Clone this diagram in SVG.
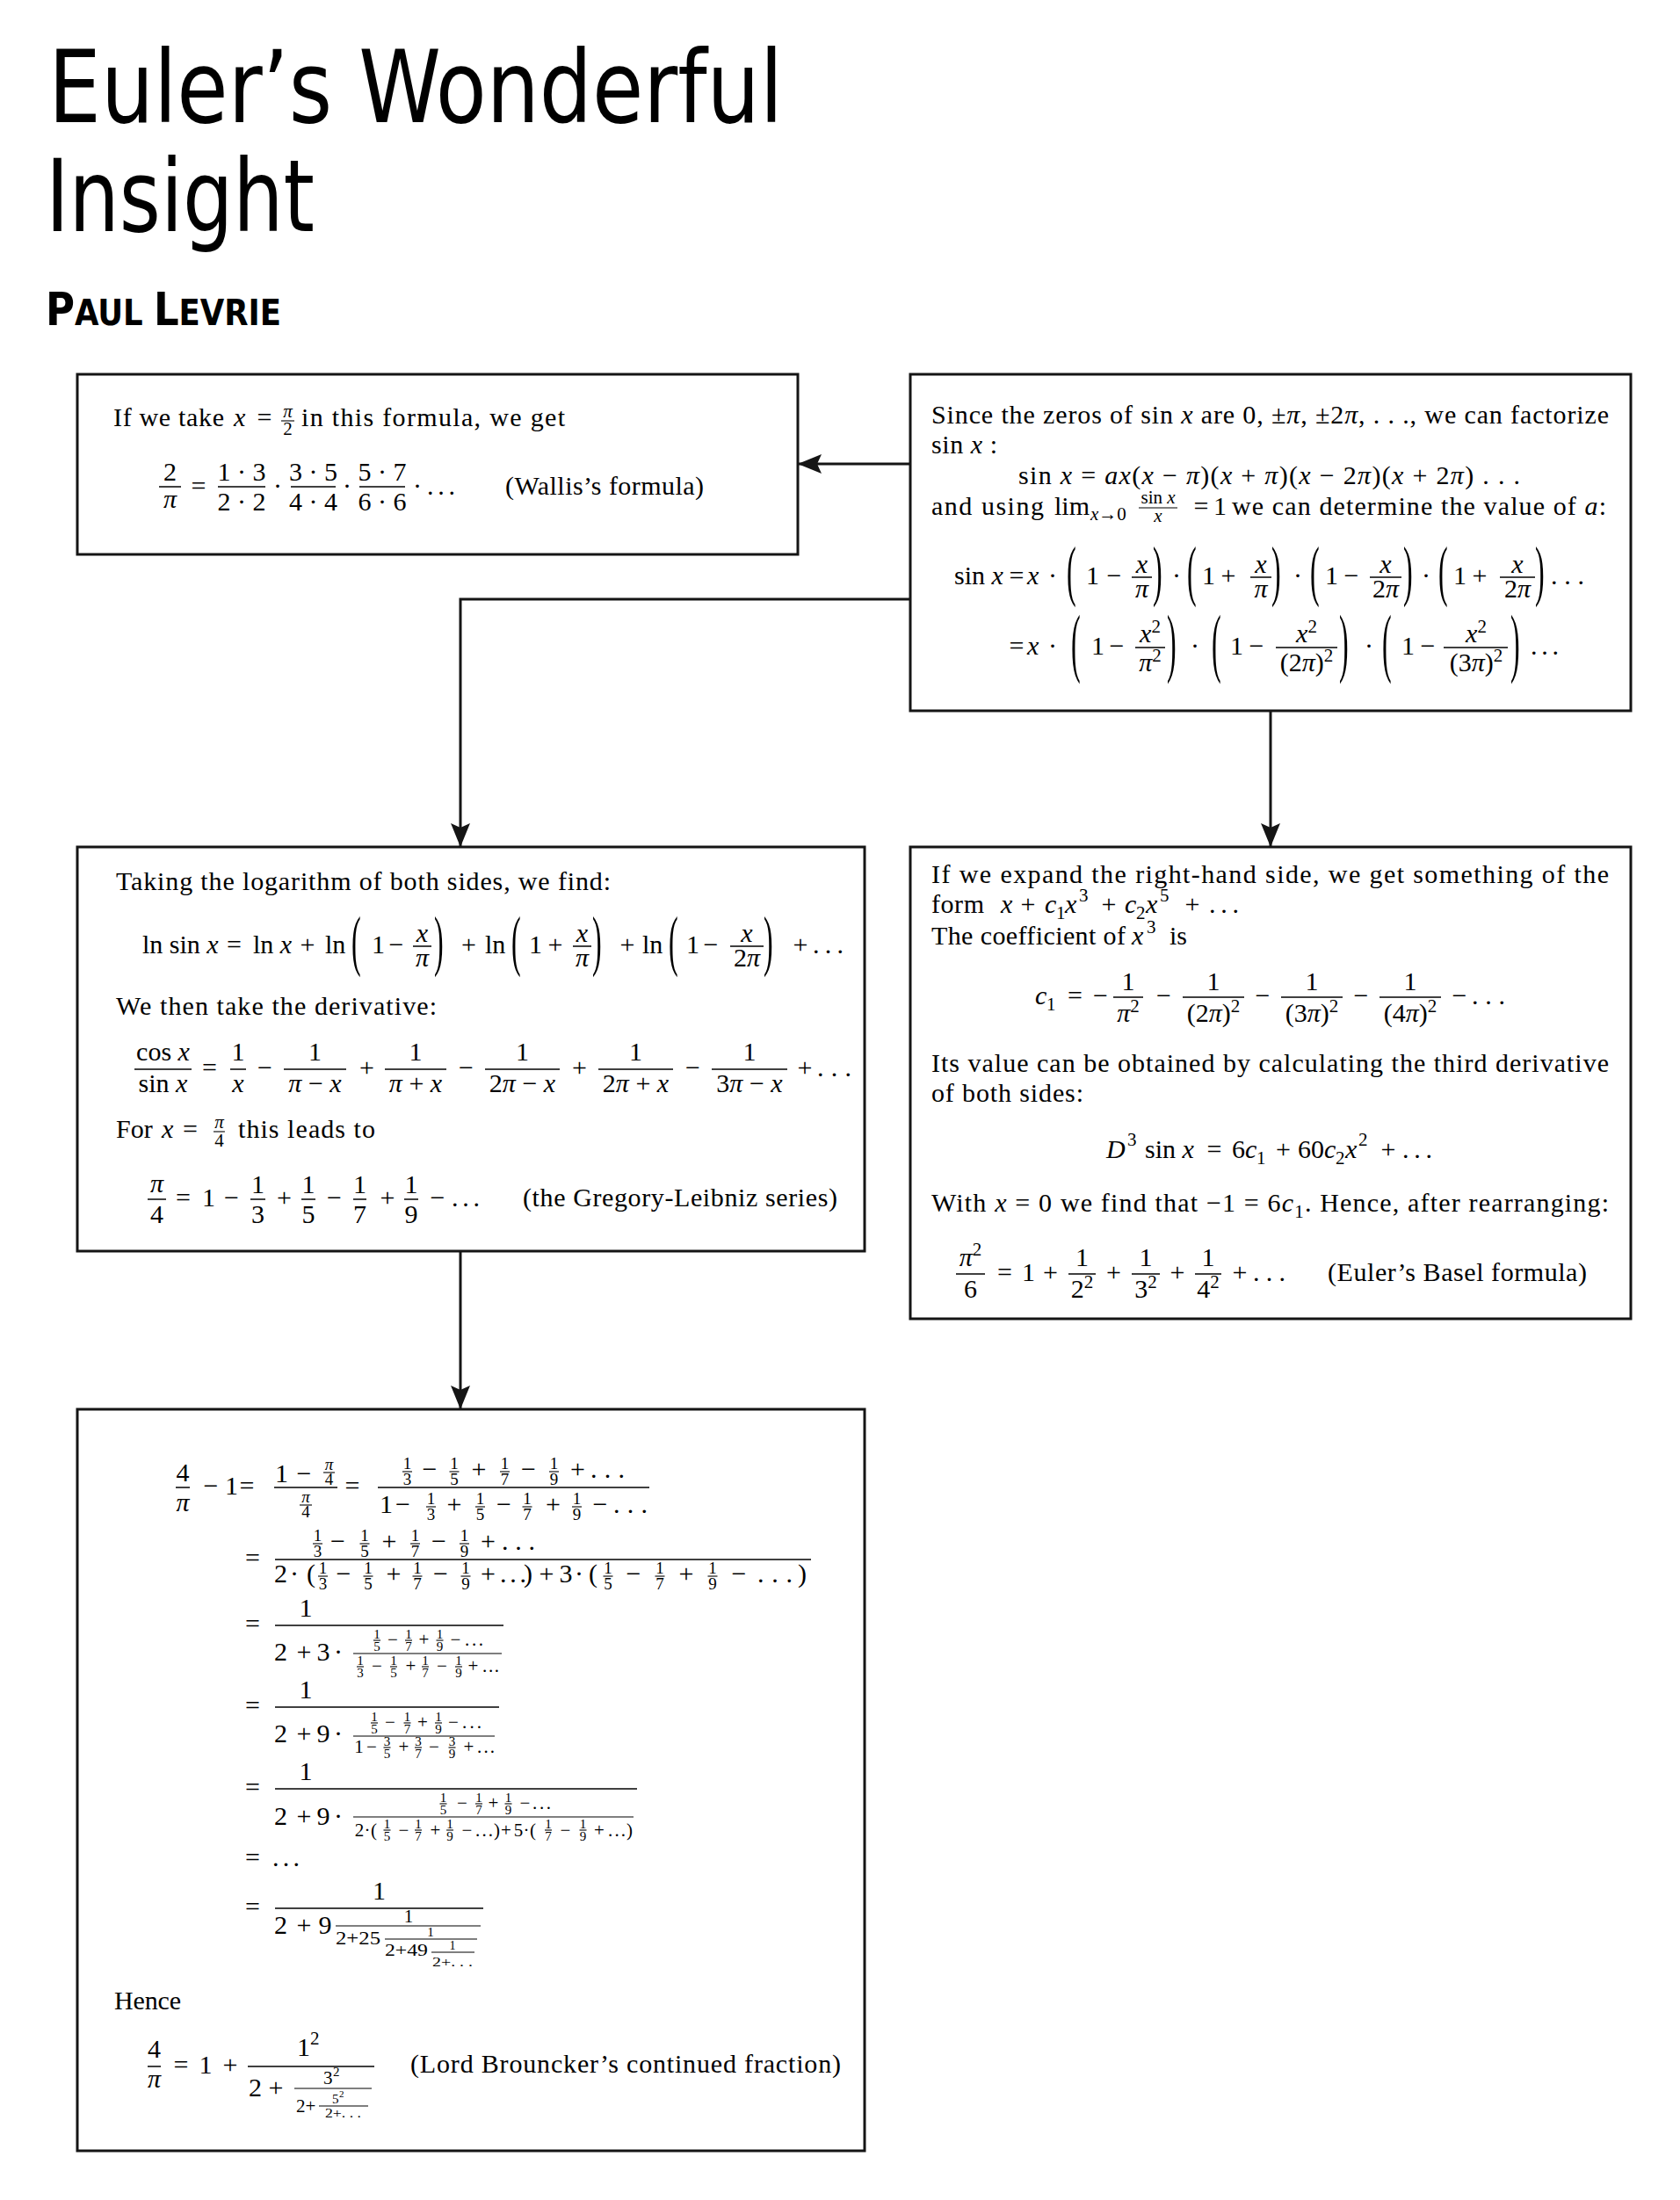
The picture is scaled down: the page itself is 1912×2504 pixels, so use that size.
<svg xmlns="http://www.w3.org/2000/svg" width="1912" height="2504" viewBox="0 0 1912 2504">
<defs>
<style>
.t{font-family:"Liberation Serif","Times New Roman",serif;font-size:30px;fill:#000}
.i{font-style:italic}
.s{font-size:21px}
.s2{font-size:19px}
.ss{font-size:15px}
.p{font-size:32px}
.m{text-anchor:middle}
.fb{stroke:#000;stroke-width:1.5}
.fs{stroke:#000;stroke-width:1.1}
.box{fill:#fff;stroke:#151515;stroke-width:3}
.cn{fill:none;stroke:#151515;stroke-width:3}
.ttl{font-family:"DejaVu Sans","Liberation Sans",sans-serif;font-stretch:condensed;fill:#000}
</style>
<marker id="ah" viewBox="0 0 27 22" refX="27" refY="11" markerWidth="27" markerHeight="22" markerUnits="userSpaceOnUse" orient="auto">
<path d="M0,0 L27,11 L0,22 L5,11 Z" fill="#151515"/>
</marker>
</defs>
<rect width="1912" height="2504" fill="#fff"/>

<g id="title">
<text class="ttl" x="55" y="139" font-size="114" textLength="836" lengthAdjust="spacingAndGlyphs">Euler’s Wonderful</text>
<text class="ttl" x="52" y="263" font-size="114" textLength="306" lengthAdjust="spacingAndGlyphs">Insight</text>
<text class="ttl" x="52" y="370" font-weight="bold" textLength="268" lengthAdjust="spacingAndGlyphs"><tspan font-size="52">P</tspan><tspan font-size="41">AUL </tspan><tspan font-size="52">L</tspan><tspan font-size="41">EVRIE</tspan></text>
</g>

<g id="n-wallis">
<rect class="box" x="88" y="426" width="820" height="205"/>
<text class="t" x="129" y="485" textLength="126" lengthAdjust="spacing">If we take</text>
<text class="t i" x="266" y="485">x</text>
<text class="t m" x="301" y="485">=</text>
<text class="t s i m" x="327.5" y="475">π</text>
<line class="fs" x1="320" y1="479" x2="335" y2="479"/>
<text class="t s m" x="327.5" y="495">2</text>
<text class="t" x="343" y="485" textLength="300" lengthAdjust="spacing">in this formula, we get</text>
<text class="t m" x="193.5" y="547">2</text>
<line class="fb" x1="181" y1="554" x2="206" y2="554"/>
<text class="t i m" x="193.5" y="578">π</text>
<text class="t m" x="226" y="563">=</text>
<text class="t m" x="275" y="547">1 · 3</text>
<line class="fb" x1="248" y1="554" x2="302" y2="554"/>
<text class="t m" x="275" y="581">2 · 2</text>
<text class="t m" x="316" y="563">·</text>
<text class="t m" x="356.5" y="547">3 · 5</text>
<line class="fb" x1="331" y1="554" x2="382" y2="554"/>
<text class="t m" x="356.5" y="581">4 · 4</text>
<text class="t m" x="395" y="563">·</text>
<text class="t m" x="435" y="547">5 · 7</text>
<line class="fb" x1="409" y1="554" x2="461" y2="554"/>
<text class="t m" x="435" y="581">6 · 6</text>
<text class="t m" x="475" y="563">·</text>
<text class="t" x="486" y="563" textLength="32" lengthAdjust="spacing">. . .</text>
<text class="t" x="575" y="563" textLength="226" lengthAdjust="spacing">(Wallis’s formula)</text>
</g>

<g id="n-factorize">
<rect class="box" x="1036" y="426" width="820" height="383"/>
<text class="t" x="1060" y="482" textLength="771" lengthAdjust="spacing">Since the zeros of sin <tspan class="i">x</tspan> are 0, ±<tspan class="i">π</tspan>, ±2<tspan class="i">π</tspan>, . . ., we can factorize</text>
<text class="t" x="1060" y="516" textLength="75" lengthAdjust="spacing">sin <tspan class="i">x</tspan> :</text>
<text class="t" x="1159" y="551" textLength="571" lengthAdjust="spacing">sin <tspan class="i">x</tspan> = <tspan class="i">ax</tspan>(<tspan class="i">x</tspan> − <tspan class="i">π</tspan>)(<tspan class="i">x</tspan> + <tspan class="i">π</tspan>)(<tspan class="i">x</tspan> − 2<tspan class="i">π</tspan>)(<tspan class="i">x</tspan> + 2<tspan class="i">π</tspan>) . . .</text>
<text class="t" x="1060" y="586" textLength="128" lengthAdjust="spacing">and using</text>
<text class="t" x="1200" y="586">lim</text>
<text class="t s" x="1241" y="592"><tspan class="i">x</tspan>→0</text>
<text class="t s m" x="1318" y="573">sin <tspan class="i">x</tspan></text>
<line class="fs" x1="1296" y1="578" x2="1340" y2="578"/>
<text class="t s i m" x="1318" y="594">x</text>
<text class="t m" x="1367" y="586">=</text>
<text class="t" x="1381" y="586">1</text>
<text class="t" x="1402" y="586" textLength="426" lengthAdjust="spacing">we can determine the value of <tspan class="i">a</tspan>:</text>
<!-- row 1 -->
<text class="t" x="1086" y="665">sin <tspan class="i">x</tspan></text>
<text class="t m" x="1157" y="665">=</text>
<text class="t i" x="1169" y="665">x</text>
<text class="t m" x="1198" y="665">·</text>
<text class="t p" transform="translate(1214,675) scale(1,2.4)">(</text>
<text class="t" x="1236" y="665">1</text>
<text class="t m" x="1268" y="665">−</text>
<text class="t i m" x="1299.5" y="652">x</text>
<line class="fb" x1="1288" y1="657" x2="1311" y2="657"/>
<text class="t i m" x="1299.5" y="680">π</text>
<text class="t p" transform="translate(1312,675) scale(1,2.4)">)</text>
<text class="t m" x="1339" y="665">·</text>
<text class="t p" transform="translate(1351,675) scale(1,2.4)">(</text>
<text class="t" x="1368" y="665">1</text>
<text class="t m" x="1398" y="665">+</text>
<text class="t i m" x="1435" y="652">x</text>
<line class="fb" x1="1423" y1="657" x2="1447" y2="657"/>
<text class="t i m" x="1435" y="680">π</text>
<text class="t p" transform="translate(1447,675) scale(1,2.4)">)</text>
<text class="t m" x="1477" y="665">·</text>
<text class="t p" transform="translate(1491,675) scale(1,2.4)">(</text>
<text class="t" x="1508" y="665">1</text>
<text class="t m" x="1538" y="665">−</text>
<text class="t i m" x="1577" y="652">x</text>
<line class="fb" x1="1559" y1="657" x2="1595" y2="657"/>
<text class="t m" x="1577" y="680">2<tspan class="i">π</tspan></text>
<text class="t p" transform="translate(1597,675) scale(1,2.4)">)</text>
<text class="t m" x="1623" y="665">·</text>
<text class="t p" transform="translate(1637,675) scale(1,2.4)">(</text>
<text class="t" x="1654" y="665">1</text>
<text class="t m" x="1684" y="665">+</text>
<text class="t i m" x="1727" y="652">x</text>
<line class="fb" x1="1707" y1="657" x2="1747" y2="657"/>
<text class="t m" x="1727" y="680">2<tspan class="i">π</tspan></text>
<text class="t p" transform="translate(1747,675) scale(1,2.4)">)</text>
<text class="t" x="1765" y="665" textLength="38" lengthAdjust="spacing">. . .</text>
<!-- row 2 -->
<text class="t m" x="1157" y="745">=</text>
<text class="t i" x="1169" y="745">x</text>
<text class="t m" x="1198" y="745">·</text>
<text class="t p" transform="translate(1219,760) scale(1,2.7)">(</text>
<text class="t" x="1242" y="745">1</text>
<text class="t m" x="1271" y="745">−</text>
<text class="t m" x="1309" y="731"><tspan class="i">x</tspan><tspan class="s" dy="-11">2</tspan></text>
<line class="fb" x1="1292" y1="737" x2="1326" y2="737"/>
<text class="t m" x="1309" y="764"><tspan class="i">π</tspan><tspan class="s" dy="-11">2</tspan></text>
<text class="t p" transform="translate(1328,760) scale(1,2.7)">)</text>
<text class="t m" x="1360" y="745">·</text>
<text class="t p" transform="translate(1379,760) scale(1,2.7)">(</text>
<text class="t" x="1400" y="745">1</text>
<text class="t m" x="1430" y="745">−</text>
<text class="t m" x="1487" y="731"><tspan class="i">x</tspan><tspan class="s" dy="-11">2</tspan></text>
<line class="fb" x1="1452" y1="737" x2="1522" y2="737"/>
<text class="t m" x="1487" y="764">(2<tspan class="i">π</tspan>)<tspan class="s" dy="-11">2</tspan></text>
<text class="t p" transform="translate(1524,760) scale(1,2.7)">)</text>
<text class="t m" x="1558" y="745">·</text>
<text class="t p" transform="translate(1573,760) scale(1,2.7)">(</text>
<text class="t" x="1595" y="745">1</text>
<text class="t m" x="1625" y="745">−</text>
<text class="t m" x="1680" y="731"><tspan class="i">x</tspan><tspan class="s" dy="-11">2</tspan></text>
<line class="fb" x1="1643" y1="737" x2="1716" y2="737"/>
<text class="t m" x="1680" y="764">(3<tspan class="i">π</tspan>)<tspan class="s" dy="-11">2</tspan></text>
<text class="t p" transform="translate(1719,760) scale(1,2.7)">)</text>
<text class="t" x="1742" y="745" textLength="32" lengthAdjust="spacing">. . .</text>
</g>

<g id="n-logarithm">
<rect class="box" x="88" y="964" width="896" height="460"/>
<text class="t" x="132" y="1013" textLength="563" lengthAdjust="spacing">Taking the logarithm of both sides, we find:</text>
<text class="t" x="162" y="1085">ln sin <tspan class="i">x</tspan></text>
<text class="t m" x="266.5" y="1085">=</text>
<text class="t" x="288" y="1085">ln <tspan class="i">x</tspan></text>
<text class="t m" x="350" y="1085">+</text>
<text class="t" x="370" y="1085">ln</text>
<text class="t p" transform="translate(400,1096) scale(1,2.4)">(</text>
<text class="t" x="423" y="1085">1</text>
<text class="t m" x="451" y="1085">−</text>
<text class="t i m" x="480.5" y="1072">x</text>
<line class="fb" x1="470" y1="1077" x2="491" y2="1077"/>
<text class="t i m" x="480.5" y="1100">π</text>
<text class="t p" transform="translate(494,1096) scale(1,2.4)">)</text>
<text class="t m" x="533.5" y="1085">+</text>
<text class="t" x="552" y="1085">ln</text>
<text class="t p" transform="translate(582,1096) scale(1,2.4)">(</text>
<text class="t" x="602" y="1085">1</text>
<text class="t m" x="632" y="1085">+</text>
<text class="t i m" x="662.5" y="1072">x</text>
<line class="fb" x1="652" y1="1077" x2="673" y2="1077"/>
<text class="t i m" x="662.5" y="1100">π</text>
<text class="t p" transform="translate(674,1096) scale(1,2.4)">)</text>
<text class="t m" x="714" y="1085">+</text>
<text class="t" x="731" y="1085">ln</text>
<text class="t p" transform="translate(761,1096) scale(1,2.4)">(</text>
<text class="t" x="781" y="1085">1</text>
<text class="t m" x="809" y="1085">−</text>
<text class="t i m" x="850" y="1072">x</text>
<line class="fb" x1="831" y1="1077" x2="869" y2="1077"/>
<text class="t m" x="850" y="1100">2<tspan class="i">π</tspan></text>
<text class="t p" transform="translate(869,1096) scale(1,2.4)">)</text>
<text class="t m" x="911" y="1085">+</text>
<text class="t" x="925" y="1085" textLength="35" lengthAdjust="spacing">. . .</text>

<text class="t" x="132" y="1155" textLength="365" lengthAdjust="spacing">We then take the derivative:</text>
<text class="t m" x="185.5" y="1207">cos <tspan class="i">x</tspan></text>
<line class="fb" x1="153" y1="1217" x2="218" y2="1217"/>
<text class="t m" x="185.5" y="1243">sin <tspan class="i">x</tspan></text>
<text class="t m" x="238.5" y="1225">=</text>
<text class="t m" x="271" y="1207">1</text>
<line class="fb" x1="262" y1="1217" x2="280" y2="1217"/>
<text class="t i m" x="271" y="1243">x</text>
<text class="t m" x="301.5" y="1225">−</text>
<text class="t m" x="358.5" y="1207">1</text>
<line class="fb" x1="323" y1="1217" x2="394" y2="1217"/>
<text class="t m" x="358.5" y="1243"><tspan class="i">π</tspan> − <tspan class="i">x</tspan></text>
<text class="t m" x="417.5" y="1225">+</text>
<text class="t m" x="473" y="1207">1</text>
<line class="fb" x1="438" y1="1217" x2="508" y2="1217"/>
<text class="t m" x="473" y="1243"><tspan class="i">π</tspan> + <tspan class="i">x</tspan></text>
<text class="t m" x="530.5" y="1225">−</text>
<text class="t m" x="594.5" y="1207">1</text>
<line class="fb" x1="552" y1="1217" x2="637" y2="1217"/>
<text class="t m" x="594.5" y="1243">2<tspan class="i">π</tspan> − <tspan class="i">x</tspan></text>
<text class="t m" x="659.5" y="1225">+</text>
<text class="t m" x="723.5" y="1207">1</text>
<line class="fb" x1="681" y1="1217" x2="766" y2="1217"/>
<text class="t m" x="723.5" y="1243">2<tspan class="i">π</tspan> + <tspan class="i">x</tspan></text>
<text class="t m" x="788.5" y="1225">−</text>
<text class="t m" x="853" y="1207">1</text>
<line class="fb" x1="810" y1="1217" x2="896" y2="1217"/>
<text class="t m" x="853" y="1243">3<tspan class="i">π</tspan> − <tspan class="i">x</tspan></text>
<text class="t m" x="916" y="1225">+</text>
<text class="t" x="930" y="1225" textLength="39" lengthAdjust="spacing">. . .</text>

<text class="t" x="132" y="1295">For</text>
<text class="t i" x="184" y="1295">x</text>
<text class="t m" x="216.5" y="1295">=</text>
<text class="t s i m" x="249.5" y="1284">π</text>
<line class="fs" x1="243" y1="1288" x2="256" y2="1288"/>
<text class="t s m" x="249.5" y="1305">4</text>
<text class="t" x="271" y="1295" textLength="156" lengthAdjust="spacing">this leads to</text>

<text class="t i m" x="178.5" y="1357">π</text>
<line class="fb" x1="168" y1="1365" x2="189" y2="1365"/>
<text class="t m" x="178.5" y="1392">4</text>
<text class="t m" x="208.5" y="1373">=</text>
<text class="t m" x="237.5" y="1373">1</text>
<text class="t m" x="263.5" y="1373">−</text>
<text class="t m" x="293.5" y="1358">1</text>
<line class="fb" x1="285" y1="1365" x2="302" y2="1365"/>
<text class="t m" x="293.5" y="1392">3</text>
<text class="t m" x="323.5" y="1373">+</text>
<text class="t m" x="351" y="1358">1</text>
<line class="fb" x1="343" y1="1365" x2="359" y2="1365"/>
<text class="t m" x="351" y="1392">5</text>
<text class="t m" x="380.5" y="1373">−</text>
<text class="t m" x="409.5" y="1358">1</text>
<line class="fb" x1="402" y1="1365" x2="417" y2="1365"/>
<text class="t m" x="409.5" y="1392">7</text>
<text class="t m" x="441" y="1373">+</text>
<text class="t m" x="468" y="1358">1</text>
<line class="fb" x1="460" y1="1365" x2="476" y2="1365"/>
<text class="t m" x="468" y="1392">9</text>
<text class="t m" x="498" y="1373">−</text>
<text class="t" x="514" y="1373" textLength="32" lengthAdjust="spacing">. . .</text>
<text class="t" x="595" y="1373" textLength="358" lengthAdjust="spacing">(the Gregory-Leibniz series)</text>
</g>

<g id="n-basel">
<rect class="box" x="1036" y="964" width="820" height="537"/>
<text class="t" x="1060" y="1005" textLength="771" lengthAdjust="spacing">If we expand the right-hand side, we get something of the</text>
<text class="t" x="1060" y="1039" textLength="60" lengthAdjust="spacing">form</text>
<text class="t i" x="1139" y="1039">x</text>
<text class="t m" x="1170" y="1039">+</text>
<text class="t i" x="1189" y="1039">c</text>
<text class="t s" x="1202" y="1046">1</text>
<text class="t i" x="1212" y="1039">x</text>
<text class="t s" x="1228" y="1026">3</text>
<text class="t m" x="1262" y="1039">+</text>
<text class="t i" x="1280" y="1039">c</text>
<text class="t s" x="1293" y="1046">2</text>
<text class="t i" x="1304" y="1039">x</text>
<text class="t s" x="1320" y="1026">5</text>
<text class="t m" x="1357" y="1039">+</text>
<text class="t" x="1376" y="1039" textLength="34" lengthAdjust="spacing">. . .</text>
<text class="t" x="1060" y="1075" textLength="221" lengthAdjust="spacing">The coefficient of</text>
<text class="t i" x="1288" y="1075">x</text>
<text class="t s" x="1305" y="1062">3</text>
<text class="t" x="1331" y="1075">is</text>

<text class="t i" x="1178" y="1143">c</text>
<text class="t s" x="1191" y="1150">1</text>
<text class="t m" x="1223.5" y="1143">=</text>
<text class="t m" x="1252.5" y="1143">−</text>
<text class="t m" x="1284" y="1127">1</text>
<line class="fb" x1="1267" y1="1135" x2="1301" y2="1135"/>
<text class="t m" x="1284" y="1163"><tspan class="i">π</tspan><tspan class="s" dy="-11">2</tspan></text>
<text class="t m" x="1324.5" y="1143">−</text>
<text class="t m" x="1381" y="1127">1</text>
<line class="fb" x1="1346" y1="1135" x2="1416" y2="1135"/>
<text class="t m" x="1381" y="1163">(2<tspan class="i">π</tspan>)<tspan class="s" dy="-11">2</tspan></text>
<text class="t m" x="1437" y="1143">−</text>
<text class="t m" x="1493" y="1127">1</text>
<line class="fb" x1="1458" y1="1135" x2="1528" y2="1135"/>
<text class="t m" x="1493" y="1163">(3<tspan class="i">π</tspan>)<tspan class="s" dy="-11">2</tspan></text>
<text class="t m" x="1549" y="1143">−</text>
<text class="t m" x="1605" y="1127">1</text>
<line class="fb" x1="1570" y1="1135" x2="1640" y2="1135"/>
<text class="t m" x="1605" y="1163">(4<tspan class="i">π</tspan>)<tspan class="s" dy="-11">2</tspan></text>
<text class="t m" x="1661" y="1143">−</text>
<text class="t" x="1675" y="1143" textLength="38" lengthAdjust="spacing">. . .</text>

<text class="t" x="1060" y="1220" textLength="771" lengthAdjust="spacing">Its value can be obtained by calculating the third derivative</text>
<text class="t" x="1060" y="1254" textLength="173" lengthAdjust="spacing">of both sides:</text>

<text class="t i" x="1259" y="1318">D</text>
<text class="t s" x="1283" y="1304">3</text>
<text class="t" x="1303" y="1318">sin <tspan class="i">x</tspan></text>
<text class="t m" x="1382" y="1318">=</text>
<text class="t" x="1402" y="1318">6<tspan class="i">c</tspan></text>
<text class="t s" x="1430" y="1325">1</text>
<text class="t m" x="1460.5" y="1318">+</text>
<text class="t" x="1477" y="1318">60<tspan class="i">c</tspan></text>
<text class="t s" x="1520" y="1325">2</text>
<text class="t i" x="1531" y="1318">x</text>
<text class="t s" x="1546" y="1304">2</text>
<text class="t m" x="1580" y="1318">+</text>
<text class="t" x="1596" y="1318" textLength="34" lengthAdjust="spacing">. . .</text>

<text class="t" x="1060" y="1379" textLength="771" lengthAdjust="spacing">With <tspan class="i">x</tspan> = 0 we find that −1 = 6<tspan class="i">c</tspan><tspan class="s" dy="7">1</tspan><tspan dy="-7">. Hence, after rearranging:</tspan></text>

<text class="t m" x="1104.5" y="1441"><tspan class="i">π</tspan><tspan class="s" dy="-12">2</tspan></text>
<line class="fb" x1="1088" y1="1450" x2="1121" y2="1450"/>
<text class="t m" x="1104.5" y="1477">6</text>
<text class="t m" x="1143.5" y="1458">=</text>
<text class="t" x="1163" y="1458">1</text>
<text class="t m" x="1195.5" y="1458">+</text>
<text class="t m" x="1231.5" y="1441">1</text>
<line class="fb" x1="1216" y1="1450" x2="1247" y2="1450"/>
<text class="t m" x="1231.5" y="1477">2<tspan class="s" dy="-11">2</tspan></text>
<text class="t m" x="1267.5" y="1458">+</text>
<text class="t m" x="1304" y="1441">1</text>
<line class="fb" x1="1288" y1="1450" x2="1320" y2="1450"/>
<text class="t m" x="1304" y="1477">3<tspan class="s" dy="-11">2</tspan></text>
<text class="t m" x="1340" y="1458">+</text>
<text class="t m" x="1375" y="1441">1</text>
<line class="fb" x1="1360" y1="1450" x2="1390" y2="1450"/>
<text class="t m" x="1375" y="1477">4<tspan class="s" dy="-11">2</tspan></text>
<text class="t m" x="1411" y="1458">+</text>
<text class="t" x="1426" y="1458" textLength="37" lengthAdjust="spacing">. . .</text>
<text class="t" x="1511" y="1458" textLength="295" lengthAdjust="spacing">(Euler’s Basel formula)</text>
</g>

<g id="n-brouncker">
<rect class="box" x="88" y="1604" width="896" height="844"/>
<!-- row A -->
<text class="t m" x="208" y="1686">4</text>
<line class="fb" x1="200" y1="1693" x2="216" y2="1693"/>
<text class="t i m" x="208" y="1720">π</text>
<text class="t m" x="240" y="1701">−</text>
<text class="t m" x="263.5" y="1701">1</text>
<text class="t m" x="281" y="1701">=</text>
<text class="t" x="313" y="1687">1</text>
<text class="t m" x="346" y="1687">−</text>
<text class="t s2 i m" x="374.5" y="1673">π</text>
<line class="fs" x1="368" y1="1676" x2="381" y2="1676"/>
<text class="t s2 m" x="374.5" y="1690">4</text>
<line class="fb" x1="312" y1="1693" x2="384" y2="1693"/>
<text class="t s2 i m" x="348" y="1710">π</text>
<line class="fs" x1="341" y1="1713" x2="355" y2="1713"/>
<text class="t s2 m" x="348" y="1727">4</text>
<text class="t m" x="401" y="1701">=</text>
<text class="t s2 m" x="463.5" y="1672">1</text><line class="fs" x1="458" y1="1675" x2="469" y2="1675"/><text class="t s2 m" x="463.5" y="1690">3</text>
<text class="t m" x="489" y="1682">−</text>
<text class="t s2 m" x="517" y="1672">1</text><line class="fs" x1="511.5" y1="1675" x2="522.5" y2="1675"/><text class="t s2 m" x="517" y="1690">5</text>
<text class="t m" x="545" y="1682">+</text>
<text class="t s2 m" x="574.5" y="1672">1</text><line class="fs" x1="569" y1="1675" x2="580" y2="1675"/><text class="t s2 m" x="574.5" y="1690">7</text>
<text class="t m" x="601.5" y="1682">−</text>
<text class="t s2 m" x="630.5" y="1672">1</text><line class="fs" x1="625" y1="1675" x2="636" y2="1675"/><text class="t s2 m" x="630.5" y="1690">9</text>
<text class="t m" x="657.5" y="1682">+</text>
<text class="t" x="672" y="1682" textLength="39" lengthAdjust="spacing">. . .</text>
<line class="fb" x1="430" y1="1693" x2="739" y2="1693"/>
<text class="t m" x="439.5" y="1722">1</text>
<text class="t m" x="458.5" y="1722">−</text>
<text class="t s2 m" x="490.5" y="1712">1</text><line class="fs" x1="485" y1="1715" x2="496" y2="1715"/><text class="t s2 m" x="490.5" y="1730">3</text>
<text class="t m" x="517" y="1722">+</text>
<text class="t s2 m" x="546.5" y="1712">1</text><line class="fs" x1="541" y1="1715" x2="552" y2="1715"/><text class="t s2 m" x="546.5" y="1730">5</text>
<text class="t m" x="573.5" y="1722">−</text>
<text class="t s2 m" x="600" y="1712">1</text><line class="fs" x1="594.5" y1="1715" x2="605.5" y2="1715"/><text class="t s2 m" x="600" y="1730">7</text>
<text class="t m" x="629.5" y="1722">+</text>
<text class="t s2 m" x="656.5" y="1712">1</text><line class="fs" x1="651" y1="1715" x2="662" y2="1715"/><text class="t s2 m" x="656.5" y="1730">9</text>
<text class="t m" x="683" y="1722">−</text>
<text class="t" x="698" y="1722" textLength="39" lengthAdjust="spacing">. . .</text>

<!-- row B -->
<text class="t m" x="287.5" y="1783">=</text>
<text class="t s2 m" x="361.5" y="1754">1</text><line class="fs" x1="356" y1="1757" x2="367" y2="1757"/><text class="t s2 m" x="361.5" y="1772">3</text>
<text class="t m" x="384.5" y="1764">−</text>
<text class="t s2 m" x="415" y="1754">1</text><line class="fs" x1="409.5" y1="1757" x2="420.5" y2="1757"/><text class="t s2 m" x="415" y="1772">5</text>
<text class="t m" x="443" y="1764">+</text>
<text class="t s2 m" x="472.5" y="1754">1</text><line class="fs" x1="467" y1="1757" x2="478" y2="1757"/><text class="t s2 m" x="472.5" y="1772">7</text>
<text class="t m" x="499.5" y="1764">−</text>
<text class="t s2 m" x="528.5" y="1754">1</text><line class="fs" x1="523" y1="1757" x2="534" y2="1757"/><text class="t s2 m" x="528.5" y="1772">9</text>
<text class="t m" x="555.5" y="1764">+</text>
<text class="t" x="571" y="1764" textLength="38" lengthAdjust="spacing">. . .</text>
<line class="fb" x1="313" y1="1775" x2="923" y2="1775"/>
<text class="t m" x="319.5" y="1801">2</text>
<text class="t m" x="335" y="1801">·</text>
<text class="t" x="349" y="1801">(</text>
<text class="t s2 m" x="367.5" y="1791">1</text><line class="fs" x1="362" y1="1794" x2="373" y2="1794"/><text class="t s2 m" x="367.5" y="1809">3</text>
<text class="t m" x="391" y="1801">−</text>
<text class="t s2 m" x="419" y="1791">1</text><line class="fs" x1="413.5" y1="1794" x2="424.5" y2="1794"/><text class="t s2 m" x="419" y="1809">5</text>
<text class="t m" x="448" y="1801">+</text>
<text class="t s2 m" x="475" y="1791">1</text><line class="fs" x1="469.5" y1="1794" x2="480.5" y2="1794"/><text class="t s2 m" x="475" y="1809">7</text>
<text class="t m" x="501.5" y="1801">−</text>
<text class="t s2 m" x="530" y="1791">1</text><line class="fs" x1="524.5" y1="1794" x2="535.5" y2="1794"/><text class="t s2 m" x="530" y="1809">9</text>
<text class="t m" x="555.5" y="1801">+</text>
<text class="t" x="569" y="1801" textLength="30" lengthAdjust="spacing">. . .</text>
<text class="t" x="596" y="1801">)</text>
<text class="t m" x="622" y="1801">+</text>
<text class="t m" x="644" y="1801">3</text>
<text class="t m" x="659" y="1801">·</text>
<text class="t" x="670" y="1801">(</text>
<text class="t s2 m" x="692" y="1791">1</text><line class="fs" x1="686.5" y1="1794" x2="697.5" y2="1794"/><text class="t s2 m" x="692" y="1809">5</text>
<text class="t m" x="721" y="1801">−</text>
<text class="t s2 m" x="751" y="1791">1</text><line class="fs" x1="745.5" y1="1794" x2="756.5" y2="1794"/><text class="t s2 m" x="751" y="1809">7</text>
<text class="t m" x="781" y="1801">+</text>
<text class="t s2 m" x="811" y="1791">1</text><line class="fs" x1="805.5" y1="1794" x2="816.5" y2="1794"/><text class="t s2 m" x="811" y="1809">9</text>
<text class="t m" x="841" y="1801">−</text>
<text class="t" x="862" y="1801" textLength="40" lengthAdjust="spacing">. . .</text>
<text class="t" x="908" y="1801">)</text>

<!-- row C -->
<text class="t m" x="287.5" y="1858">=</text>
<text class="t m" x="348" y="1840">1</text>
<line class="fb" x1="313" y1="1850" x2="573" y2="1850"/>
<text class="t m" x="319.5" y="1890">2</text>
<text class="t m" x="346" y="1890">+</text>
<text class="t m" x="368" y="1890">3</text>
<text class="t m" x="385" y="1890">·</text>
<text class="t ss m" x="429" y="1865">1</text><line class="fs" x1="425" y1="1867" x2="433" y2="1867"/><text class="t ss m" x="429" y="1879">5</text>
<text class="t s m" x="447" y="1873">−</text>
<text class="t ss m" x="465" y="1865">1</text><line class="fs" x1="461" y1="1867" x2="469" y2="1867"/><text class="t ss m" x="465" y="1879">7</text>
<text class="t s m" x="482.5" y="1873">+</text>
<text class="t ss m" x="500.5" y="1865">1</text><line class="fs" x1="496.5" y1="1867" x2="504.5" y2="1867"/><text class="t ss m" x="500.5" y="1879">9</text>
<text class="t s m" x="518.5" y="1873">−</text>
<text class="t s" x="529" y="1873" textLength="21" lengthAdjust="spacing">. . .</text>
<line class="fs" x1="402" y1="1882" x2="571" y2="1882"/>
<text class="t ss m" x="410" y="1895">1</text><line class="fs" x1="406" y1="1897" x2="414" y2="1897"/><text class="t ss m" x="410" y="1909">3</text>
<text class="t s m" x="429" y="1903">−</text>
<text class="t ss m" x="448" y="1895">1</text><line class="fs" x1="444" y1="1897" x2="452" y2="1897"/><text class="t ss m" x="448" y="1909">5</text>
<text class="t s m" x="467.5" y="1903">+</text>
<text class="t ss m" x="484" y="1895">1</text><line class="fs" x1="480" y1="1897" x2="488" y2="1897"/><text class="t ss m" x="484" y="1909">7</text>
<text class="t s m" x="503" y="1903">−</text>
<text class="t ss m" x="522" y="1895">1</text><line class="fs" x1="518" y1="1897" x2="526" y2="1897"/><text class="t ss m" x="522" y="1909">9</text>
<text class="t s m" x="538.5" y="1903">+</text>
<text class="t s" x="549" y="1903" textLength="19" lengthAdjust="spacing">. . .</text>

<!-- row D -->
<text class="t m" x="287.5" y="1951">=</text>
<text class="t m" x="348" y="1933">1</text>
<line class="fb" x1="313" y1="1943" x2="568" y2="1943"/>
<text class="t m" x="319.5" y="1983">2</text>
<text class="t m" x="346" y="1983">+</text>
<text class="t m" x="368" y="1983">9</text>
<text class="t m" x="385" y="1983">·</text>
<text class="t ss m" x="426" y="1959">1</text><line class="fs" x1="422" y1="1961" x2="430" y2="1961"/><text class="t ss m" x="426" y="1973">5</text>
<text class="t s m" x="444" y="1967">−</text>
<text class="t ss m" x="463.5" y="1959">1</text><line class="fs" x1="459.5" y1="1961" x2="467.5" y2="1961"/><text class="t ss m" x="463.5" y="1973">7</text>
<text class="t s m" x="481" y="1967">+</text>
<text class="t ss m" x="499" y="1959">1</text><line class="fs" x1="495" y1="1961" x2="503" y2="1961"/><text class="t ss m" x="499" y="1973">9</text>
<text class="t s m" x="516" y="1967">−</text>
<text class="t s" x="526" y="1967" textLength="22" lengthAdjust="spacing">. . .</text>
<line class="fs" x1="402" y1="1976" x2="563" y2="1976"/>
<text class="t s m" x="408.5" y="1995">1</text>
<text class="t s m" x="423" y="1995">−</text>
<text class="t ss m" x="440.5" y="1987">3</text><line class="fs" x1="436.5" y1="1989" x2="444.5" y2="1989"/><text class="t ss m" x="440.5" y="2001">5</text>
<text class="t s m" x="459.5" y="1995">+</text>
<text class="t ss m" x="476" y="1987">3</text><line class="fs" x1="472" y1="1989" x2="480" y2="1989"/><text class="t ss m" x="476" y="2001">7</text>
<text class="t s m" x="494" y="1995">−</text>
<text class="t ss m" x="514.5" y="1987">3</text><line class="fs" x1="510.5" y1="1989" x2="518.5" y2="1989"/><text class="t ss m" x="514.5" y="2001">9</text>
<text class="t s m" x="533.5" y="1995">+</text>
<text class="t s" x="543" y="1995" textLength="20" lengthAdjust="spacing">. . .</text>

<!-- row E -->
<text class="t m" x="287.5" y="2044">=</text>
<text class="t m" x="348" y="2026">1</text>
<line class="fb" x1="313" y1="2036" x2="725" y2="2036"/>
<text class="t m" x="319.5" y="2077">2</text>
<text class="t m" x="346" y="2077">+</text>
<text class="t m" x="368" y="2077">9</text>
<text class="t m" x="385" y="2077">·</text>
<text class="t ss m" x="504.5" y="2051">1</text><line class="fs" x1="500.5" y1="2053" x2="508.5" y2="2053"/><text class="t ss m" x="504.5" y="2065">5</text>
<text class="t s m" x="526" y="2059">−</text>
<text class="t ss m" x="545" y="2051">1</text><line class="fs" x1="541" y1="2053" x2="549" y2="2053"/><text class="t ss m" x="545" y="2065">7</text>
<text class="t s m" x="561.5" y="2059">+</text>
<text class="t ss m" x="578.5" y="2051">1</text><line class="fs" x1="574.5" y1="2053" x2="582.5" y2="2053"/><text class="t ss m" x="578.5" y="2065">9</text>
<text class="t s m" x="597.5" y="2059">−</text>
<text class="t s" x="606" y="2059" textLength="21" lengthAdjust="spacing">. . .</text>
<line class="fs" x1="402" y1="2068" x2="721" y2="2068"/>
<text class="t s m" x="409" y="2090">2</text>
<text class="t s m" x="418" y="2090">·</text>
<text class="t s" x="422" y="2090">(</text>
<text class="t ss m" x="440.5" y="2081">1</text><line class="fs" x1="436.5" y1="2083" x2="444.5" y2="2083"/><text class="t ss m" x="440.5" y="2095">5</text>
<text class="t s m" x="459.5" y="2090">−</text>
<text class="t ss m" x="476" y="2081">1</text><line class="fs" x1="472" y1="2083" x2="480" y2="2083"/><text class="t ss m" x="476" y="2095">7</text>
<text class="t s m" x="495.5" y="2090">+</text>
<text class="t ss m" x="512" y="2081">1</text><line class="fs" x1="508" y1="2083" x2="516" y2="2083"/><text class="t ss m" x="512" y="2095">9</text>
<text class="t s m" x="531.5" y="2090">−</text>
<text class="t s" x="541" y="2090" textLength="20" lengthAdjust="spacing">. . .</text>
<text class="t s" x="562" y="2090">)</text>
<text class="t s m" x="576" y="2090">+</text>
<text class="t s m" x="590" y="2090">5</text>
<text class="t s m" x="599" y="2090">·</text>
<text class="t s" x="603" y="2090">(</text>
<text class="t ss m" x="624" y="2081">1</text><line class="fs" x1="620" y1="2083" x2="628" y2="2083"/><text class="t ss m" x="624" y="2095">7</text>
<text class="t s m" x="643.5" y="2090">−</text>
<text class="t ss m" x="663.5" y="2081">1</text><line class="fs" x1="659.5" y1="2083" x2="667.5" y2="2083"/><text class="t ss m" x="663.5" y="2095">9</text>
<text class="t s m" x="682" y="2090">+</text>
<text class="t s" x="692" y="2090" textLength="20" lengthAdjust="spacing">. . .</text>
<text class="t s" x="713" y="2090">)</text>

<!-- row F -->
<text class="t m" x="287.5" y="2124">=</text>
<text class="t" x="310" y="2124" textLength="31" lengthAdjust="spacing">. . .</text>

<!-- row G -->
<text class="t m" x="287.5" y="2180">=</text>
<text class="t m" x="431.5" y="2162">1</text>
<line class="fb" x1="313" y1="2172" x2="550" y2="2172"/>
<text class="t m" x="319.5" y="2201">2</text>
<text class="t m" x="346" y="2201">+</text>
<text class="t m" x="370" y="2201">9</text>
<text class="t s m" x="465" y="2188">1</text>
<line class="fs" x1="382" y1="2192" x2="547" y2="2192"/>
<text class="t s" x="382" y="2213" textLength="51" lengthAdjust="spacingAndGlyphs">2+25</text>
<text class="t ss m" x="490" y="2204">1</text>
<line class="fs" x1="438" y1="2207" x2="543" y2="2207"/>
<text class="t" x="438" y="2226" style="font-size:18px" textLength="49" lengthAdjust="spacingAndGlyphs">2+49</text>
<text class="t m" x="515" y="2219" style="font-size:14px">1</text>
<line class="fs" x1="491" y1="2222" x2="540" y2="2222"/>
<text class="t ss" x="492" y="2238" textLength="46" lengthAdjust="spacingAndGlyphs">2+. . .</text>

<!-- Hence -->
<text class="t" x="130" y="2287" textLength="76" lengthAdjust="spacing">Hence</text>
<text class="t m" x="175.5" y="2342">4</text>
<line class="fb" x1="168" y1="2352" x2="183" y2="2352"/>
<text class="t i m" x="175.5" y="2376">π</text>
<text class="t m" x="206" y="2360">=</text>
<text class="t m" x="234" y="2360">1</text>
<text class="t m" x="262" y="2360">+</text>
<text class="t" x="338" y="2340">1</text>
<text class="t s" x="353" y="2327">2</text>
<line class="fb" x1="282" y1="2352" x2="426" y2="2352"/>
<text class="t" x="283" y="2386">2</text>
<text class="t m" x="314" y="2386">+</text>
<text class="t s" x="368" y="2372">3</text>
<text class="t ss" x="379" y="2363">2</text>
<line class="fs" x1="335" y1="2377" x2="423" y2="2377"/>
<text class="t s" x="337" y="2404">2+</text>
<text class="t ss" x="378" y="2394">5</text>
<text class="t" x="386" y="2387" style="font-size:11px">2</text>
<line class="fs" x1="363" y1="2397" x2="419" y2="2397"/>
<text class="t ss" x="370" y="2410" textLength="41" lengthAdjust="spacingAndGlyphs">2+. . .</text>
<text class="t" x="467" y="2359" textLength="490" lengthAdjust="spacing">(Lord Brouncker’s continued fraction)</text>
</g>

<g id="connectors">
<path class="cn" d="M1036,528 L908,528" marker-end="url(#ah)"/>
<path class="cn" d="M1036,682 L524,682 L524,964" marker-end="url(#ah)"/>
<path class="cn" d="M1446,810 L1446,964" marker-end="url(#ah)"/>
<path class="cn" d="M524,1425 L524,1604" marker-end="url(#ah)"/>
</g>
</svg>
